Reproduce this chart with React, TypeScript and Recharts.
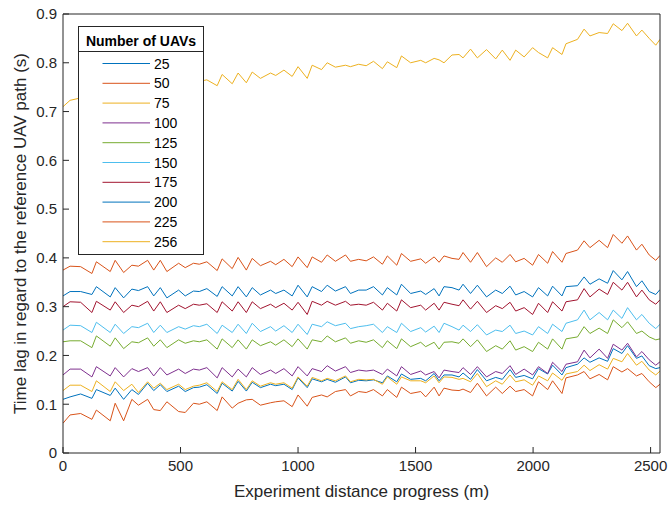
import React from "react";
import { LineChart, Line, XAxis, YAxis } from "recharts";

// Distance positions (m) shared by all runs
const distance = [
  0, 30, 75, 123, 142, 201, 222, 258, 293, 321,
  360, 386, 414, 442, 492, 520, 555, 580, 612, 656,
  677, 720, 745, 780, 805, 840, 883, 905, 940, 975,
  1000, 1039, 1060, 1100, 1124, 1159, 1202, 1223, 1258, 1290,
  1321, 1359, 1380, 1420, 1440, 1479, 1522, 1543, 1579, 1600,
  1621, 1655, 1685, 1702, 1734, 1763, 1802, 1841, 1869, 1902,
  1926, 1962, 1998, 2023, 2062, 2083, 2123, 2140, 2189, 2217,
  2242, 2281, 2317, 2341, 2378, 2402, 2440, 2463, 2494, 2522,
  2540
];

const uav25 = [
  0.110, 0.115, 0.121, 0.112, 0.130, 0.118, 0.133, 0.110, 0.130, 0.120,
  0.143, 0.128, 0.140, 0.126, 0.137, 0.126, 0.134, 0.135, 0.140, 0.122,
  0.143, 0.127, 0.147, 0.127, 0.145, 0.134, 0.141, 0.138, 0.141, 0.130,
  0.154, 0.134, 0.152, 0.146, 0.151, 0.145, 0.156, 0.144, 0.149, 0.148,
  0.150, 0.144, 0.158, 0.146, 0.162, 0.151, 0.153, 0.148, 0.163, 0.148,
  0.160, 0.160, 0.156, 0.164, 0.151, 0.171, 0.148, 0.155, 0.151, 0.171,
  0.155, 0.159, 0.152, 0.173, 0.162, 0.180, 0.160, 0.175, 0.182, 0.195,
  0.186, 0.195, 0.188, 0.214, 0.204, 0.220, 0.194, 0.199, 0.179, 0.173,
  0.175
];

const uav50 = [
  0.061, 0.078, 0.081, 0.069, 0.088, 0.066, 0.102, 0.066, 0.110, 0.098,
  0.110, 0.089, 0.087, 0.105, 0.085, 0.083, 0.102, 0.100, 0.105, 0.087,
  0.115, 0.092, 0.102, 0.109, 0.110, 0.098, 0.103, 0.105, 0.107, 0.095,
  0.119, 0.096, 0.114, 0.119, 0.115, 0.126, 0.130, 0.117, 0.126, 0.124,
  0.130, 0.117, 0.130, 0.114, 0.135, 0.122, 0.126, 0.115, 0.135, 0.117,
  0.133, 0.129, 0.128, 0.131, 0.124, 0.143, 0.117, 0.135, 0.122, 0.137,
  0.126, 0.130, 0.117, 0.146, 0.130, 0.148, 0.122, 0.154, 0.160, 0.167,
  0.152, 0.161, 0.150, 0.177, 0.166, 0.173, 0.158, 0.163, 0.146, 0.134,
  0.141
];

const uav75 = [
  0.128, 0.139, 0.139, 0.126, 0.148, 0.126, 0.146, 0.128, 0.141, 0.124,
  0.146, 0.133, 0.143, 0.130, 0.141, 0.130, 0.137, 0.139, 0.144, 0.126,
  0.146, 0.130, 0.151, 0.130, 0.148, 0.137, 0.144, 0.141, 0.144, 0.133,
  0.156, 0.137, 0.155, 0.148, 0.153, 0.148, 0.158, 0.146, 0.151, 0.150,
  0.151, 0.141, 0.156, 0.141, 0.156, 0.148, 0.148, 0.144, 0.158, 0.144,
  0.156, 0.155, 0.151, 0.153, 0.146, 0.163, 0.136, 0.148, 0.141, 0.160,
  0.146, 0.150, 0.139, 0.158, 0.148, 0.164, 0.149, 0.162, 0.167, 0.180,
  0.169, 0.181, 0.172, 0.194, 0.187, 0.204, 0.180, 0.188, 0.170, 0.160,
  0.168
];

const uav100 = [
  0.160, 0.172, 0.172, 0.156, 0.177, 0.158, 0.175, 0.156, 0.173, 0.167,
  0.175, 0.158, 0.175, 0.160, 0.172, 0.163, 0.172, 0.170, 0.175, 0.154,
  0.175, 0.156, 0.172, 0.156, 0.175, 0.161, 0.170, 0.163, 0.173, 0.158,
  0.177, 0.158, 0.173, 0.167, 0.179, 0.168, 0.177, 0.165, 0.170, 0.168,
  0.170, 0.161, 0.172, 0.158, 0.177, 0.161, 0.168, 0.160, 0.167, 0.154,
  0.170, 0.167, 0.165, 0.175, 0.161, 0.177, 0.156, 0.167, 0.163, 0.179,
  0.161, 0.172, 0.160, 0.177, 0.163, 0.186, 0.167, 0.182, 0.187, 0.211,
  0.195, 0.213, 0.194, 0.223, 0.211, 0.225, 0.197, 0.208, 0.191, 0.180,
  0.187
];

const uav125 = [
  0.228, 0.230, 0.230, 0.216, 0.240, 0.219, 0.236, 0.214, 0.228, 0.226,
  0.236, 0.219, 0.232, 0.216, 0.232, 0.225, 0.230, 0.228, 0.232, 0.213,
  0.234, 0.216, 0.232, 0.213, 0.232, 0.220, 0.228, 0.221, 0.232, 0.218,
  0.234, 0.213, 0.232, 0.228, 0.240, 0.228, 0.236, 0.225, 0.230, 0.227,
  0.232, 0.216, 0.230, 0.214, 0.234, 0.218, 0.227, 0.218, 0.227, 0.213,
  0.227, 0.228, 0.225, 0.234, 0.218, 0.232, 0.208, 0.220, 0.213, 0.230,
  0.211, 0.218, 0.208, 0.227, 0.213, 0.234, 0.213, 0.234, 0.238, 0.259,
  0.245, 0.256, 0.245, 0.273, 0.257, 0.269, 0.245, 0.250, 0.238, 0.232,
  0.234
];

const uav150 = [
  0.252, 0.262, 0.261, 0.247, 0.268, 0.247, 0.264, 0.245, 0.259, 0.257,
  0.266, 0.247, 0.262, 0.247, 0.259, 0.254, 0.261, 0.259, 0.264, 0.245,
  0.262, 0.247, 0.264, 0.245, 0.266, 0.249, 0.259, 0.250, 0.261, 0.247,
  0.264, 0.243, 0.264, 0.259, 0.269, 0.261, 0.266, 0.255, 0.259, 0.261,
  0.264, 0.247, 0.259, 0.247, 0.266, 0.249, 0.257, 0.248, 0.260, 0.247,
  0.266, 0.259, 0.252, 0.262, 0.249, 0.263, 0.242, 0.252, 0.249, 0.262,
  0.245, 0.250, 0.242, 0.259, 0.245, 0.264, 0.249, 0.266, 0.273, 0.293,
  0.273, 0.288, 0.273, 0.293, 0.276, 0.298, 0.273, 0.284, 0.266, 0.255,
  0.264
];

const uav175 = [
  0.300, 0.310, 0.309, 0.288, 0.311, 0.293, 0.310, 0.288, 0.303, 0.300,
  0.311, 0.291, 0.310, 0.288, 0.303, 0.296, 0.305, 0.303, 0.306, 0.288,
  0.310, 0.291, 0.310, 0.288, 0.310, 0.296, 0.305, 0.298, 0.307, 0.293,
  0.309, 0.284, 0.311, 0.303, 0.311, 0.303, 0.311, 0.303, 0.305, 0.303,
  0.309, 0.293, 0.307, 0.291, 0.314, 0.298, 0.303, 0.293, 0.307, 0.293,
  0.309, 0.305, 0.302, 0.314, 0.295, 0.311, 0.288, 0.302, 0.296, 0.309,
  0.291, 0.298, 0.284, 0.307, 0.288, 0.310, 0.291, 0.310, 0.314, 0.337,
  0.320, 0.336, 0.325, 0.350, 0.334, 0.350, 0.320, 0.334, 0.314, 0.305,
  0.314
];

const uav200 = [
  0.322, 0.331, 0.331, 0.325, 0.341, 0.320, 0.339, 0.318, 0.336, 0.333,
  0.341, 0.322, 0.339, 0.318, 0.334, 0.322, 0.332, 0.331, 0.337, 0.321,
  0.341, 0.322, 0.341, 0.320, 0.339, 0.324, 0.334, 0.327, 0.334, 0.322,
  0.344, 0.320, 0.341, 0.331, 0.344, 0.332, 0.341, 0.327, 0.334, 0.334,
  0.341, 0.324, 0.339, 0.324, 0.346, 0.327, 0.332, 0.325, 0.337, 0.322,
  0.341, 0.339, 0.334, 0.346, 0.327, 0.344, 0.320, 0.334, 0.327, 0.342,
  0.324, 0.331, 0.320, 0.339, 0.322, 0.342, 0.322, 0.341, 0.343, 0.361,
  0.346, 0.357, 0.348, 0.374, 0.355, 0.372, 0.341, 0.353, 0.331, 0.325,
  0.335
];

const uav225 = [
  0.375, 0.383, 0.382, 0.368, 0.392, 0.372, 0.395, 0.370, 0.385, 0.383,
  0.395, 0.375, 0.395, 0.372, 0.389, 0.380, 0.389, 0.387, 0.392, 0.374,
  0.398, 0.378, 0.401, 0.375, 0.399, 0.384, 0.393, 0.386, 0.397, 0.382,
  0.402, 0.380, 0.402, 0.391, 0.406, 0.393, 0.406, 0.393, 0.397, 0.394,
  0.402, 0.387, 0.404, 0.385, 0.409, 0.393, 0.398, 0.389, 0.402, 0.391,
  0.404, 0.399, 0.397, 0.411, 0.391, 0.411, 0.382, 0.400, 0.391, 0.407,
  0.392, 0.399, 0.385, 0.407, 0.389, 0.413, 0.391, 0.409, 0.416, 0.435,
  0.421, 0.436, 0.421, 0.448, 0.430, 0.445, 0.416, 0.428, 0.406, 0.395,
  0.405
];

const uav256 = [
  0.710, 0.723, 0.728, 0.730, 0.735, 0.733, 0.740, 0.737, 0.744, 0.742,
  0.748, 0.744, 0.752, 0.748, 0.756, 0.752, 0.760, 0.762, 0.765, 0.753,
  0.776, 0.757, 0.779, 0.759, 0.781, 0.768, 0.779, 0.774, 0.785, 0.772,
  0.792, 0.768, 0.795, 0.786, 0.800, 0.791, 0.795, 0.792, 0.797, 0.794,
  0.803, 0.788, 0.802, 0.790, 0.814, 0.800, 0.805, 0.800, 0.809, 0.806,
  0.800, 0.816, 0.817, 0.810, 0.828, 0.810, 0.827, 0.808, 0.826, 0.805,
  0.826, 0.812, 0.831, 0.821, 0.810, 0.831, 0.817, 0.839, 0.848, 0.869,
  0.855, 0.862, 0.860, 0.880, 0.866, 0.881, 0.855, 0.867, 0.850, 0.836,
  0.848
];

const uavCounts = ["25", "50", "75", "100", "125", "150", "175", "200", "225", "256"];
const uavSeries = [uav25, uav50, uav75, uav100, uav125, uav150, uav175, uav200, uav225, uav256];
// MATLAB default colour order, cycling after seven
const colors = [
  "#0072BD", "#D95319", "#EDB120", "#7E2F8E", "#77AC30",
  "#4DBEEE", "#A2142F", "#0072BD", "#D95319", "#EDB120"
];

const xTicks = [0, 500, 1000, 1500, 2000, 2500];
const yTicks = [0, 0.1, 0.2, 0.3, 0.4, 0.5, 0.6, 0.7, 0.8, 0.9];

const data = distance.map((d, i) => {
  const row: any = { d };
  uavCounts.forEach((n, k) => {
    row["n" + n] = uavSeries[k][i];
  });
  return row;
});

const font = "'Liberation Sans', Arial, Helvetica, sans-serif";
const axisColor = "#262626";

const LegendBox = () => (
  <svg
    width={127}
    height={230}
    style={{ position: "absolute", left: 78, top: 26 }}
  >
    <rect x={0.5} y={0.5} width={125} height={228} fill="#fff" stroke={axisColor} />
    <line x1={0.5} x2={125.5} y1={25.5} y2={25.5} stroke={axisColor} />
    <text
      x={63}
      y={20}
      textAnchor="middle"
      fontFamily={font}
      fontWeight="bold"
      fontSize={14}
      fill="#000"
    >
      Number of UAVs
    </text>
    {uavCounts.map((n, i) => {
      const cy = 37.5 + i * 19.8;
      return (
        <g key={n}>
          <line x1={24.5} x2={72} y1={cy} y2={cy} stroke={colors[i]} strokeWidth={1} />
          <text x={76} y={cy + 5} fontFamily={font} fontSize={14} fill="#000">
            {n}
          </text>
        </g>
      );
    })}
  </svg>
);

export default function App() {
  return (
    <div
      style={{
        position: "absolute",
        left: 0,
        top: 0,
        width: 670,
        height: 506,
        background: "#fff",
        fontFamily: font
      }}
    >
      <LineChart
        width={670}
        height={506}
        data={data}
        margin={{ top: 13, right: 9, bottom: 0, left: 0 }}
      >
        <XAxis
          xAxisId="b"
          type="number"
          dataKey="d"
          domain={[0, 2540]}
          ticks={xTicks}
          allowDataOverflow
          height={53}
          tickSize={-6}
          tickMargin={13}
          stroke={axisColor}
          tick={{ fill: axisColor, fontSize: 15 }}
          label={{
            value: "Experiment distance progress (m)",
            position: "insideBottom",
            offset: 9,
            fill: axisColor,
            fontSize: 17
          }}
        />
        <XAxis
          xAxisId="t"
          orientation="top"
          type="number"
          dataKey="d"
          domain={[0, 2540]}
          ticks={xTicks}
          allowDataOverflow
          height={1}
          tickSize={-6}
          tick={false}
          stroke={axisColor}
        />
        <YAxis
          yAxisId="l"
          type="number"
          domain={[0, 0.9]}
          ticks={yTicks}
          allowDataOverflow
          width={63}
          tickSize={-6}
          tickMargin={12}
          stroke={axisColor}
          tick={{ fill: axisColor, fontSize: 15 }}
          tickFormatter={(v: number) => String(v)}
          label={{
            value: "Time lag in regard to the reference UAV path (s)",
            angle: -90,
            position: "insideLeft",
            offset: 20,
            fill: axisColor,
            fontSize: 17,
            style: { textAnchor: "middle" }
          }}
        />
        <YAxis
          yAxisId="r"
          orientation="right"
          type="number"
          domain={[0, 0.9]}
          ticks={yTicks}
          allowDataOverflow
          width={1}
          tickSize={-6}
          tick={false}
          stroke={axisColor}
        />
        {uavCounts.map((n, i) => (
          <Line
            key={n}
            xAxisId="b"
            yAxisId="l"
            type="linear"
            dataKey={"n" + n}
            stroke={colors[i]}
            strokeWidth={1}
            dot={false}
            activeDot={false}
            isAnimationActive={false}
          />
        ))}
      </LineChart>
      <LegendBox />
    </div>
  );
}
